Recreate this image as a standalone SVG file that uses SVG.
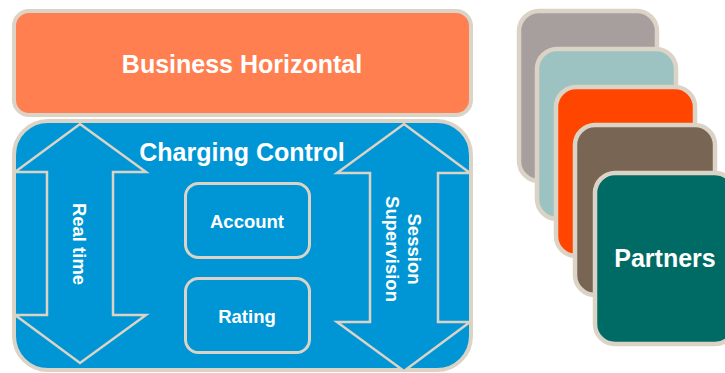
<svg xmlns="http://www.w3.org/2000/svg" width="725" height="373" viewBox="0 0 725 373">
<style>
.bd{stroke:#dbd3c6;stroke-width:4}
.t{font-family:"Liberation Sans",Arial,sans-serif;font-weight:bold;fill:#ffffff;text-anchor:middle}
.arr{fill:#0096d6;stroke:#dbd3c6;stroke-width:2.5;stroke-linejoin:miter}
.card{stroke:#dbd3c6;stroke-width:4.5}
</style>
<rect width="725" height="373" fill="#ffffff"/>
<g id="business-horizontal">
<rect class="bd" x="14" y="11" width="457" height="104" rx="15" fill="#ff7f50"/>
<text class="t" x="242" y="73" font-size="25">Business Horizontal</text>
</g>
<g id="charging-control">
<rect class="bd" x="14" y="121" width="457" height="249" rx="34" fill="#0096d6"/>
<text class="t" x="242" y="161" font-size="25">Charging Control</text>
</g>
<g id="connectors">
<g id="real-time">
<polygon class="arr" points="80,124 146,172 113,172 113,315 146,315 80,363 15,315 47,315 47,172 15,172"/>
<text class="t" font-size="18.5" transform="translate(80,244) rotate(90)" y="7">Real time</text>
</g>
<g id="session-supervision">
<polygon class="arr" points="404,124 470,173 438,173 438,322 470,322 404,371 337,322 370,322 370,173 337,173"/>
<text class="t" font-size="18.5" transform="translate(404,249) rotate(90)"><tspan x="0" y="-4">Session</tspan><tspan x="0" y="18">Supervision</tspan></text>
</g>
</g>
<g id="account">
<rect x="185.5" y="183.5" width="124" height="74" rx="13" fill="#0096d6" stroke="#dbd3c6" stroke-width="3"/>
<text class="t" x="247" y="228" font-size="18.5">Account</text>
</g>
<g id="rating">
<rect x="185.5" y="278.5" width="124" height="74" rx="13" fill="#0096d6" stroke="#dbd3c6" stroke-width="3"/>
<text class="t" x="247" y="323" font-size="18.5">Rating</text>
</g>
<g id="partner-1"><rect class="card" x="519" y="11" width="138" height="170" rx="20" fill="#a69f9e"/></g>
<g id="partner-2"><rect class="card" x="537" y="49" width="139" height="170" rx="20" fill="#9cc3c2"/></g>
<g id="partner-3"><rect class="card" x="556" y="87" width="139" height="169" rx="20" fill="#ff4500"/></g>
<g id="partner-4"><rect class="card" x="575" y="125" width="140" height="170" rx="20" fill="#786554"/></g>
<g id="partners">
<rect class="card" x="595" y="173" width="140" height="171" rx="20" fill="#006b64"/>
<text class="t" x="665" y="267" font-size="25">Partners</text>
</g>
</svg>
